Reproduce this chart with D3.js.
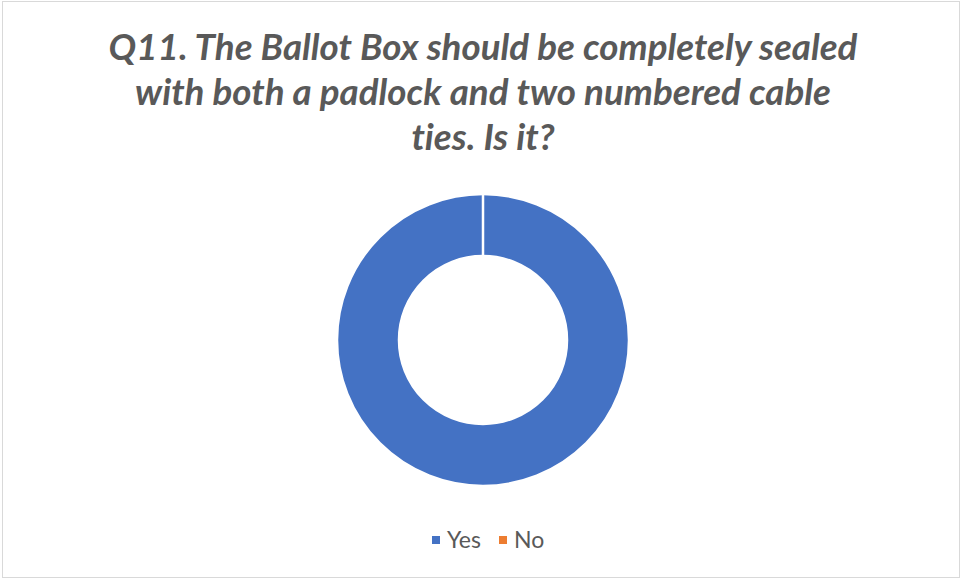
<!DOCTYPE html>
<html>
<head>
<meta charset="utf-8">
<script src="https://cdn.jsdelivr.net/npm/d3@7"></script>
<style>
  html, body { margin: 0; padding: 0; background: #fff; }
  svg { display: block; }
  text { font-variant-ligatures: none; font-feature-settings: "liga" 0, "clig" 0, "dlig" 0; }
</style>
</head>
<body>
<svg id="chart" width="961" height="579"></svg>
<script>
// Survey answers for Q11
const categories = ["Yes", "No"];
const values = [100, 0];
const colors = ["#4472C4", "#ED7D31"];
const titleLines = [
  "Q11. The Ballot Box should be completely sealed",
  "with both a padlock and two numbered cable",
  "ties. Is it?"
];

const W = 961, H = 579;
const svg = d3.select("#chart");

// chart frame
svg.append("rect")
  .attr("x", 2.5).attr("y", 1.5)
  .attr("width", W - 4).attr("height", H - 3)
  .attr("fill", "#fff")
  .attr("stroke", "#d9d9d9").attr("stroke-width", 1);

// title, three centred lines
const titleFont = "Lato, 'Open Sans', sans-serif";
const title = svg.append("g");
const baselines = [60, 105, 150];
const tl = title.selectAll("text").data(titleLines).join("text")
  .attr("x", 483)
  .attr("y", (d, i) => baselines[i])
  .attr("text-anchor", "middle")
  .attr("font-family", titleFont)
  .attr("font-weight", "bold")
  .attr("font-style", "italic")
  .attr("font-size", 32)
  .attr("fill", "#595959")
  .text(d => d);
// fit the first line to its width
const w0 = tl.nodes()[0].getComputedTextLength();
const fs = 32 * 749 / w0;
tl.attr("font-size", fs);

// donut
const cx = 483, cy = 340, rOuter = 146, rInner = 84;
const pie = d3.pie().sort(null).value(d => d.v);
const arc = d3.arc().innerRadius(rInner).outerRadius(rOuter);
const data = categories.map((c, i) => ({ c, v: values[i], col: colors[i] }));

svg.append("g")
  .attr("transform", `translate(${cx},${cy})`)
  .selectAll("path")
  .data(pie(data))
  .join("path")
  .attr("d", arc)
  .attr("fill", d => d.data.col)
  .attr("stroke", "#fff")
  .attr("stroke-width", 2.5);

// legend
const legendFont = "Lato, 'Open Sans', sans-serif";
const legend = svg.append("g");
const lx = [432, 499];
const items = legend.selectAll("g").data(data).join("g")
  .attr("transform", (d, i) => `translate(${lx[i]},0)`);
items.append("rect")
  .attr("x", 0).attr("y", 536)
  .attr("width", 8).attr("height", 8)
  .attr("fill", d => d.col);
const lt = items.append("text")
  .attr("x", 15).attr("y", 548)
  .attr("font-family", legendFont)
  .attr("font-size", 20)
  .attr("fill", "#595959")
  .text(d => d.c);
const wy = lt.nodes()[0].getComputedTextLength();
lt.attr("font-size", 20 * 34 / wy);
</script>
</body>
</html>
